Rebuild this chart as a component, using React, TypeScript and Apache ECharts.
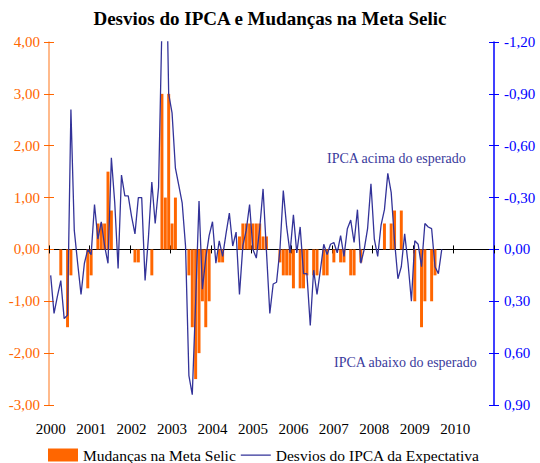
import React, { useEffect, useRef } from "react";
import * as echarts from "echarts";

const TITLE = "Desvios do IPCA e Mudanças na Meta Selic";
const BAR_NAME = "Mudanças na Meta Selic";
const LINE_NAME = "Desvios do IPCA da Expectativa";
const NOTE_UP = "IPCA acima do esperado";
const NOTE_DOWN = "IPCA abaixo do esperado";

const years = ["2000", "2001", "2002", "2003", "2004", "2005", "2006", "2007", "2008", "2009", "2010"];
const monthNames = ["01", "02", "03", "04", "05", "06", "07", "08", "09", "10", "11", "12"];
const months: string[] = [];
years.forEach((y) => monthNames.forEach((mo) => months.push(`${y}-${mo}`)));

// Monthly change of the Selic target (p.p.), left axis
const selic2000 = [0, 0, 0, -0.5, 0, -1.5, -0.5, 0, 0, 0, 0, -0.75];
const selic2001 = [-0.5, 0, 0.5, 0.5, 0.5, 1.5, 0.75, 0, 0, 0, 0, 0];
const selic2002 = [0, -0.25, -0.25, 0, 0, 0, -0.5, 0, 0, 3.0, 1.0, 3.0];
const selic2003 = [0.5, 1.0, 0, 0, 0, -0.5, -1.5, -2.5, -2.0, -1.0, -1.5, -1.0];
const selic2004 = [0, 0, -0.25, -0.25, 0, 0, 0, 0, 0.25, 0.5, 0.5, 0.5];
const selic2005 = [0.5, 0.5, 0.5, 0.25, 0.25, 0, 0, 0, -0.25, -0.5, -0.5, -0.5];
const selic2006 = [-0.75, 0, -0.75, -0.75, -0.5, 0, -0.5, -0.5, 0, -0.5, -0.5, 0];
const selic2007 = [-0.25, 0, -0.25, -0.25, 0, -0.5, -0.5, 0, -0.25, 0, 0, 0];
const selic2008 = [0, 0, 0, 0.5, 0, 0.5, 0.75, 0, 0.75, 0, 0, 0];
const selic2009 = [-1.0, 0, -1.5, -1.0, 0, -1.0, -0.5, 0, 0];

// Monthly IPCA deviation from expectation (p.p.), right axis (inverted)
const ipca2000 = [0.15, 0.37, 0.27, 0.18, 0.4, 0.38, -0.81, -0.11, 0.08, 0.26, 0.08, 0.0];
const ipca2001 = [0.03, -0.26, -0.06, -0.16, -0.02, 0.08, -0.53, -0.27, 0.11, -0.43, -0.31, -0.31];
const ipca2002 = [-0.19, -0.09, -0.3, -0.3, 0.18, -0.07, -0.39, -0.15, -0.36, -1.3, -2.0, -0.9];
const ipca2003 = [-0.79, -0.47, -0.37, -0.27, -0.02, 0.73, 0.84, 0.3, -0.28, 0.23, 0.05, -0.08];
const ipca2004 = [-0.16, 0.08, -0.05, 0.04, -0.09, -0.21, -0.02, -0.1, 0.26, -0.02, -0.11, -0.26];
const ipca2005 = [0.0, 0.05, -0.12, -0.35, 0.01, 0.37, 0.2, 0.19, 0.0, -0.34, -0.13, 0.02];
const ipca2006 = [-0.2, 0.02, -0.13, 0.14, 0.14, 0.44, 0.12, 0.26, 0.12, -0.03, 0.03, -0.03];
const ipca2007 = [-0.04, 0.02, -0.08, 0.04, -0.12, -0.17, -0.04, -0.23, 0.08, 0.0, -0.12, -0.38];
const ipca2008 = [-0.06, 0.04, -0.14, -0.23, -0.44, -0.33, -0.05, 0.17, 0.1, -0.09, 0.08, 0.3];
const ipca2009 = [-0.05, -0.03, 0.1, -0.15, -0.13, -0.12, 0.1, 0.14, 0.0];

const selicValues = [
  ...selic2000, ...selic2001, ...selic2002, ...selic2003, ...selic2004,
  ...selic2005, ...selic2006, ...selic2007, ...selic2008, ...selic2009,
];
const ipcaValues = [
  ...ipca2000, ...ipca2001, ...ipca2002, ...ipca2003, ...ipca2004,
  ...ipca2005, ...ipca2006, ...ipca2007, ...ipca2008, ...ipca2009,
];

const SERIF = "'Liberation Serif', 'DejaVu Serif', serif";
// thin horizontal stroke for the line legend icon (corner specks keep the 30x13 box)
const LINE_ICON = "path://M0,6L30,6L30,7.2L0,7.2Z M0,0L0.01,0L0.01,0.01Z M29.99,13L30,13L30,12.99Z";

const fmt = (v: number) => {
  const x = Math.abs(v) < 1e-9 ? 0 : v;
  return x.toFixed(2).replace(".", ",");
};

export default function App() {
  const ref = useRef<HTMLDivElement>(null);

  useEffect(() => {
    if (!ref.current) return;
    const chart = echarts.init(ref.current, undefined, { renderer: "svg" });

    const barData = months.map((_, i) => (i < selicValues.length ? selicValues[i] : null));
    const lineData = months.map((_, i) => (i < ipcaValues.length ? ipcaValues[i] : null));

    chart.setOption({
      animation: false,
      backgroundColor: "#ffffff",
      title: {
        text: TITLE,
        left: "center",
        top: 9,
        padding: 0,
        textStyle: { fontFamily: SERIF, fontWeight: "bold", fontSize: 19, color: "#000" },
      },
      grid: { left: 49, right: 46, top: 42, bottom: 58 },
      legend: {
        left: 48,
        top: 447,
        padding: 0,
        itemWidth: 30,
        itemHeight: 13,
        itemGap: 5,
        textStyle: { fontFamily: SERIF, fontSize: 15.5, color: "#000" },
        data: [
          { name: BAR_NAME, icon: "rect" },
          { name: LINE_NAME, icon: LINE_ICON },
        ],
      },
      xAxis: [
        {
          type: "category",
          data: months,
          position: "bottom",
          boundaryGap: true,
          axisLine: { show: true, onZero: true, onZeroAxisIndex: 0, lineStyle: { color: "#000", width: 1 } },
          axisTick: { show: true, interval: 11, length: 4, lineStyle: { color: "#000" } },
          axisLabel: { show: false },
          splitLine: { show: false },
        },
        {
          type: "category",
          data: months,
          position: "top",
          boundaryGap: true,
          axisLine: { show: true, onZero: true, onZeroAxisIndex: 0, lineStyle: { color: "#000", width: 1 } },
          axisTick: { show: true, interval: 11, length: 4, lineStyle: { color: "#000" } },
          axisLabel: { show: false },
          splitLine: { show: false },
        },
        {
          type: "category",
          data: months,
          position: "bottom",
          boundaryGap: true,
          axisLine: { show: false, onZero: false },
          axisTick: { show: false },
          axisLabel: {
            show: true,
            interval: 11,
            margin: 16,
            formatter: (v: string) => v.slice(0, 4),
            fontFamily: SERIF,
            fontSize: 15,
            color: "#000",
          },
          splitLine: { show: false },
        },
      ],
      yAxis: [
        {
          type: "value",
          position: "left",
          min: -3,
          max: 4,
          interval: 1,
          axisLine: { show: true, lineStyle: { color: "#FFA366", width: 1.5 } },
          axisTick: { show: true, length: 5, lineStyle: { color: "#FF6600" } },
          axisLabel: { formatter: fmt, color: "#FF6600", margin: 9, fontFamily: SERIF, fontSize: 15 },
          splitLine: { show: false },
        },
        {
          type: "value",
          position: "right",
          min: -1.2,
          max: 0.9,
          interval: 0.3,
          inverse: true,
          axisLine: { show: true, lineStyle: { color: "#0000FF", width: 1.5 } },
          axisTick: { show: true, length: 5, lineStyle: { color: "#0000FF" } },
          axisLabel: { formatter: fmt, color: "#0000FF", margin: 10, fontFamily: SERIF, fontSize: 15 },
          splitLine: { show: false },
        },
        {
          type: "value",
          position: "left",
          min: -3,
          max: 4,
          interval: 1,
          axisLine: { show: false },
          axisTick: { show: true, inside: true, length: 5, lineStyle: { color: "#FF6600" } },
          axisLabel: { show: false },
          splitLine: { show: false },
        },
        {
          type: "value",
          position: "right",
          min: -1.2,
          max: 0.9,
          interval: 0.3,
          inverse: true,
          axisLine: { show: false },
          axisTick: { show: true, inside: true, length: 5, lineStyle: { color: "#0000FF" } },
          axisLabel: { show: false },
          splitLine: { show: false },
        },
      ],
      series: [
        {
          name: BAR_NAME,
          type: "bar",
          xAxisIndex: 0,
          yAxisIndex: 0,
          data: barData,
          barCategoryGap: "12%",
          itemStyle: { color: "#FF6600" },
          z: 2,
        },
        {
          name: LINE_NAME,
          type: "line",
          xAxisIndex: 0,
          yAxisIndex: 1,
          data: lineData,
          symbol: "none",
          showSymbol: false,
          clip: true,
          lineStyle: { color: "#333399", width: 1.3 },
          itemStyle: { color: "#333399" },
          z: 3,
        },
      ],
      graphic: [
        {
          type: "text",
          x: 327,
          y: 158,
          style: {
            text: NOTE_UP,
            fill: "#3A3A9C",
            fontFamily: SERIF,
            fontSize: 14,
            verticalAlign: "middle",
          },
        },
        {
          type: "text",
          x: 334,
          y: 362,
          style: {
            text: NOTE_DOWN,
            fill: "#3A3A9C",
            fontFamily: SERIF,
            fontSize: 14,
            verticalAlign: "middle",
          },
        },
      ],
    });

    return () => chart.dispose();
  }, []);

  return (
    <div
      ref={ref}
      style={{ position: "fixed", left: 0, top: 0, width: 540, height: 463, background: "#fff" }}
    />
  );
}
